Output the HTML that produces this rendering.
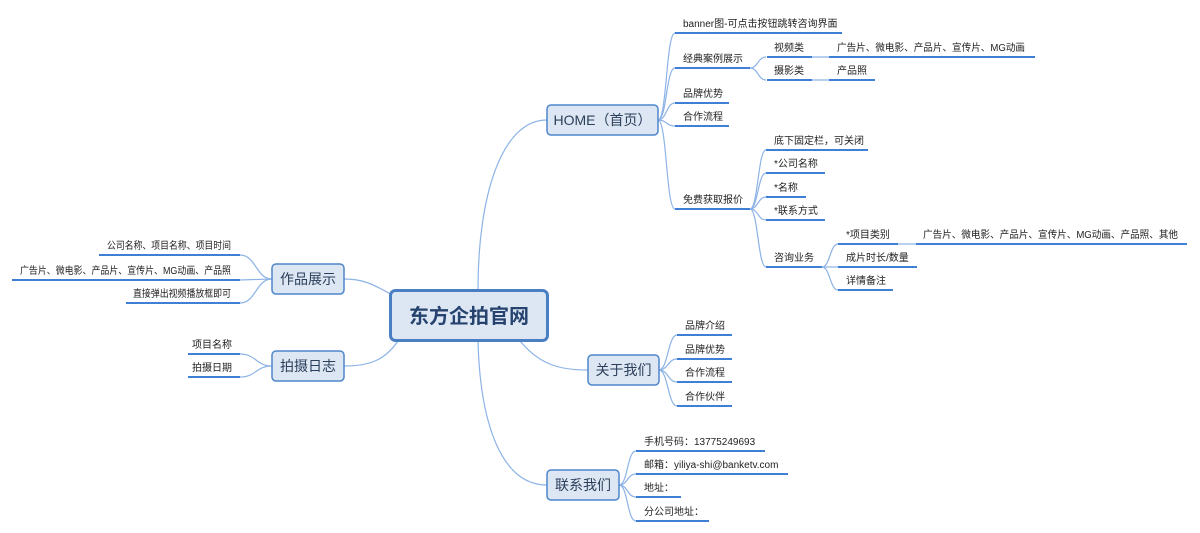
<!DOCTYPE html>
<html><head><meta charset="utf-8"><style>
body{margin:0;background:#fff;}
svg{display:block;font-family:"Liberation Sans","Noto Sans CJK SC",sans-serif;}
.l{stroke:#3f7fd6;stroke-width:2;fill:none}
.c{stroke:#8db3e6;stroke-width:1.2;fill:none}
.t{font-size:10px;fill:#222}
.b{fill:#dde7f4;stroke:#4f86cc;stroke-width:1.5}
.bt{font-size:14px;fill:#2b3e5a}
</style></head><body>
<svg width="1200" height="533" viewBox="0 0 1200 533">
<path class="c" d="M478,289 C478,200 500,120 547,120"/>
<path class="c" d="M520,341 C540,365 560,370 588,370"/>
<path class="c" d="M478,341 C480,420 500,485 547,485"/>
<path class="c" d="M392,295 C370,282 360,279 344,279"/>
<path class="c" d="M398,341 C385,360 370,366 344,366"/>
<g class="c">
<path d="M658,120 C667,120 666,33 675,33"/><path d="M658,120 C667,120 666,68 675,68"/>
<path d="M658,120 C667,120 666,103 675,103"/><path d="M658,120 C667,120 666,126 675,126"/>
<path d="M658,120 C667,120 666,209 675,209"/>
<path d="M750,68 C758,68 758,57 766,57"/><path d="M750,68 C758,68 758,80 766,80"/>
<path d="M812,57 L829,57"/><path d="M812,80 L829,80"/>
<path d="M750,209 C758,209 758,150 766,150"/><path d="M750,209 C758,209 758,173 766,173"/>
<path d="M750,209 C758,209 758,197 766,197"/><path d="M750,209 C758,209 758,220 766,220"/>
<path d="M750,209 C758,209 758,267 766,267"/>
<path d="M822,267 C830,267 830,244 838,244"/><path d="M822,267 L838,267"/>
<path d="M822,267 C830,267 830,290 838,290"/><path d="M898,244 L916,244"/>
<path d="M659,370 C668,370 668,335 677,335"/><path d="M659,370 C668,370 668,359 677,359"/>
<path d="M659,370 C668,370 668,382 677,382"/><path d="M659,370 C668,370 668,406 677,406"/>
<path d="M619,485 C628,485 627,451 636,451"/><path d="M619,485 C628,485 627,474 636,474"/>
<path d="M619,485 C628,485 627,497 636,497"/><path d="M619,485 C628,485 627,521 636,521"/>
<path d="M272,279 C256,279 256,255 240,255"/><path d="M272,279 L240,280"/>
<path d="M272,279 C256,279 256,303 240,303"/>
<path d="M272,366 C256,366 256,354 240,354"/><path d="M272,366 C256,366 256,377 240,377"/>
</g>
<g class="l">
<path d="M675,33H842M675,68H750M675,103H729M675,126H729M675,209H750"/>
<path d="M767,57H812M829,57H1035M767,80H812M829,80H875"/>
<path d="M766,150H868M766,173H825M766,197H806M766,220H825M766,267H822"/>
<path d="M838,244H898M916,244H1187M838,267H917M838,290H893"/>
<path d="M677,335H732M677,359H732M677,382H732M677,406H732"/>
<path d="M636,451H765M636,474H788M636,497H681M636,521H709"/>
<path d="M99,255H240M12,280H240M126,303H240M188,354H240M188,377H240"/>
</g>
<g class="t">
<text x="683" y="27">banner图-可点击按钮跳转咨询界面</text>
<text x="683" y="62">经典案例展示</text>
<text x="774" y="51">视频类</text><text x="837" y="51" textLength="188" lengthAdjust="spacingAndGlyphs">广告片、微电影、产品片、宣传片、MG动画</text>
<text x="774" y="74">摄影类</text><text x="837" y="74">产品照</text>
<text x="683" y="97">品牌优势</text><text x="683" y="120">合作流程</text>
<text x="683" y="203">免费获取报价</text>
<text x="774" y="144">底下固定栏，可关闭</text><text x="774" y="167">*公司名称</text>
<text x="774" y="191">*名称</text><text x="774" y="214">*联系方式</text>
<text x="774" y="261">咨询业务</text>
<text x="846" y="238">*项目类别</text><text x="923" y="238" textLength="255" lengthAdjust="spacingAndGlyphs">广告片、微电影、产品片、宣传片、MG动画、产品照、其他</text>
<text x="846" y="261">成片时长/数量</text><text x="846" y="284">详情备注</text>
<text x="685" y="329">品牌介绍</text><text x="685" y="353">品牌优势</text>
<text x="685" y="376">合作流程</text><text x="685" y="400">合作伙伴</text>
<text x="644" y="445">手机号码：13775249693</text><text x="644" y="468">邮箱：yiliya-shi@banketv.com</text>
<text x="644" y="491">地址：</text><text x="644" y="515">分公司地址：</text>
<text x="107" y="249" textLength="124" lengthAdjust="spacingAndGlyphs">公司名称、项目名称、项目时间</text>
<text x="20" y="274" textLength="211" lengthAdjust="spacingAndGlyphs">广告片、微电影、产品片、宣传片、MG动画、产品照</text>
<text x="133" y="297" textLength="98" lengthAdjust="spacingAndGlyphs">直接弹出视频播放框即可</text>
<text x="232" y="348" text-anchor="end">项目名称</text><text x="232" y="371" text-anchor="end">拍摄日期</text>
</g>
<rect class="b" x="547" y="105" width="111" height="30" rx="4"/>
<text class="bt" x="602.5" y="125" text-anchor="middle">HOME（首页）</text>
<rect class="b" x="272" y="264" width="72" height="30" rx="4"/>
<text class="bt" x="308" y="284" text-anchor="middle">作品展示</text>
<rect class="b" x="272" y="351" width="72" height="30" rx="4"/>
<text class="bt" x="308" y="371" text-anchor="middle">拍摄日志</text>
<rect class="b" x="588" y="355" width="71" height="30" rx="4"/>
<text class="bt" x="623.5" y="375" text-anchor="middle">关于我们</text>
<rect class="b" x="547" y="470" width="72" height="30" rx="4"/>
<text class="bt" x="583" y="490" text-anchor="middle">联系我们</text>
<rect x="390.5" y="290.5" width="157" height="50" rx="5" fill="#dde7f4" stroke="#4a7fc4" stroke-width="3"/>
<text x="469" y="323" text-anchor="middle" font-size="20" font-weight="bold" fill="#25436e">东方企拍官网</text>
</svg>
</body></html>
